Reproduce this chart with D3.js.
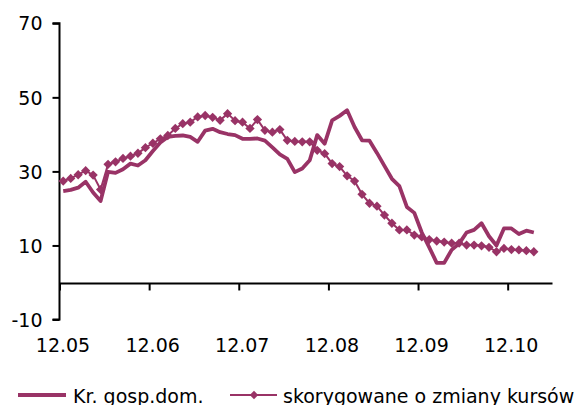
<!DOCTYPE html>
<html>
<head>
<meta charset="utf-8">
<script src="https://cdn.jsdelivr.net/npm/d3@7"></script>
<style>
  body { margin: 0; background: #fff; }
  svg text { font-family: "DejaVu Sans", Verdana, sans-serif; fill: #000; }
</style>
</head>
<body>
<div id="chart"></div>
<script>
// monthly values, Dec 2005 .. Mar 2011
let kredyty = [24.7, 25.0, 25.6, 27.2, 24.3, 22.0, 29.9, 29.6, 30.6, 32.1,
  31.6, 33.0, 35.5, 37.8, 39.3, 39.6, 39.7, 39.3, 38.0, 41.0,
  41.5, 40.6, 40.1, 39.8, 38.8, 38.8, 38.9, 38.3, 36.5, 34.6,
  33.4, 29.8, 30.8, 33.0, 39.8, 37.5, 43.8, 45.0, 46.5, 42.0,
  38.4, 38.3, 35.0, 31.5, 28.0, 26.0, 20.4, 18.8, 13.5, 9.5,
  5.3, 5.3, 8.8, 10.5, 13.5, 14.2, 16.0, 12.5, 10.0, 14.6,
  14.6, 13.1, 14.0, 13.5];
let skorygowane = [27.4, 28.1, 29.1, 30.2, 29.0, 25.1, 31.9, 32.6, 33.5, 34.1,
  34.9, 36.4, 37.6, 38.8, 39.7, 41.6, 42.9, 43.3, 44.7, 45.1,
  44.6, 43.8, 45.6, 43.7, 43.3, 41.6, 44.0, 41.1, 40.6, 41.3,
  38.4, 38.1, 38.0, 38.0, 35.7, 34.8, 32.1, 31.3, 28.8, 27.4,
  23.8, 21.4, 20.6, 18.2, 16.0, 14.2, 14.2, 12.8, 12.3, 11.6,
  11.2, 10.9, 10.6, 10.6, 10.1, 10.1, 9.9, 9.5, 8.3, 9.2,
  8.9, 8.8, 8.6, 8.3];
let tickLabels = ["12.05", "12.06", "12.07", "12.08", "12.09", "12.10"];
let yTicks = [-10, 10, 30, 50, 70];
let seriesNames = ["Kr. gosp.dom.", "skorygowane o zmiany kursów"];

let width = 578, height = 405;
let color = "#993366";
let nCat = 66;

let svg = d3.select("#chart").append("svg")
  .attr("width", width).attr("height", height);

let x = d3.scaleLinear().domain([0, nCat]).range([59.5, 552.5]);
let y = d3.scaleLinear().domain([-10, 70]).range([319.5, 23.3]);

// y axis
let yaxis = d3.axisLeft(y).tickValues(yTicks).tickSize(7).tickPadding(10).tickFormat(d => d);
let yg = svg.append("g").attr("transform", "translate(59.5,0)").call(yaxis);
yg.select(".domain").attr("d", "M-7," + y(70) + "H0V" + y(-10) + "H-7");
yg.selectAll("path, line").style("stroke", "#000").style("stroke-width", 2);
yg.selectAll("text").style("font-size", "19px").attr("dy", "0.35em")
  .attr("font-family", null);

// x axis at zero
let tickPos = tickLabels.map((d, i) => i * 12);
let xaxis = d3.axisBottom(x).tickValues(tickPos).tickSize(7).tickPadding(48)
  .tickFormat((d, i) => tickLabels[i]);
let xg = svg.append("g").attr("transform", "translate(0," + (y(0) + 1) + ")").call(xaxis);
xg.select(".domain").attr("d", "M" + x(0) + ",0H" + x(nCat));
xg.selectAll("path, line").style("stroke", "#000").style("stroke-width", 2);
xg.selectAll("text").style("font-size", "19px").attr("font-family", null)
  .attr("dx", "3px");

let line = d3.line().x((d, i) => x(i + 0.5)).y(d => y(d));

svg.append("path").datum(kredyty)
  .attr("d", line)
  .style("fill", "none").style("stroke", color)
  .style("stroke-width", 3.8).style("stroke-linejoin", "round");

svg.append("path").datum(skorygowane)
  .attr("d", line)
  .style("fill", "none").style("stroke", color)
  .style("stroke-width", 2);

let diamond = d3.symbol().type(d3.symbolDiamond2).size(55);
svg.selectAll(".g-marker").data(skorygowane).enter().append("path")
  .attr("class", "g-marker")
  .attr("d", diamond)
  .attr("transform", (d, i) => "translate(" + x(i + 0.5) + "," + y(d) + ")")
  .style("fill", color);

// legend
let leg = svg.append("g").attr("transform", "translate(0,395)");
leg.append("line").attr("x1", 18).attr("x2", 66).style("stroke", color).style("stroke-width", 3.8);
leg.append("text").attr("x", 73).attr("y", 7.5).style("font-size", "19px").text(seriesNames[0]);
leg.append("line").attr("x1", 230).attr("x2", 277).style("stroke", color).style("stroke-width", 2);
leg.append("path").attr("d", d3.symbol().type(d3.symbolDiamond2).size(45))
  .attr("transform", "translate(254,0)").style("fill", color);
leg.append("text").attr("x", 283).attr("y", 7.5).style("font-size", "19px").text(seriesNames[1]);
</script>
</body>
</html>
